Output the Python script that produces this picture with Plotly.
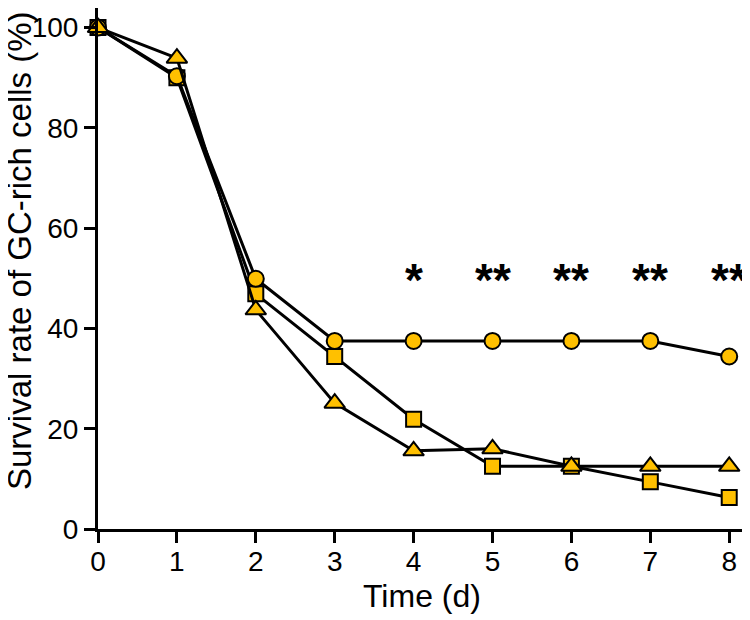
import plotly.graph_objects as go

days = [0, 1, 2, 3, 4, 5, 6, 7, 8]
circle_vals = [100, 90.3, 49.9, 37.5, 37.5, 37.5, 37.5, 37.5, 34.4]
square_vals = [100, 90.0, 46.9, 34.4, 21.9, 12.5, 12.5, 9.4, 6.3]
triangle_vals = [100, 93.9, 43.7, 25.1, 15.6, 16.0, 12.5, 12.5, 12.5]
sig_days = [4, 5, 6, 7, 8]
sig_labels = ["*", "**", "**", "**", "**"]
x_ticks = [0, 1, 2, 3, 4, 5, 6, 7, 8]
y_ticks = [0, 20, 40, 60, 80, 100]
x_title = "Time (d)"
y_title = "Survival rate of GC-rich cells (%)"

FILL = "#FFC000"
FONT = "Liberation Sans, Arial, sans-serif"

fig = go.Figure()
for vals, sym, size in [(square_vals, "square", 15),
                        (circle_vals, "circle", 16),
                        (triangle_vals, "triangle-up", 18)]:
    fig.add_trace(go.Scatter(
        x=days, y=vals, mode="lines+markers",
        line=dict(color="black", width=3),
        marker=dict(symbol=sym, size=size, color=FILL,
                    line=dict(color="black", width=2)),
        cliponaxis=False, showlegend=False))

for d, lab in zip(sig_days, sig_labels):
    fig.add_annotation(x=d, y=49.6, text="<b>" + lab + "</b>", showarrow=False,
                       xanchor="center", yanchor="middle",
                       font=dict(family=FONT, size=46, color="black"))

# axis titles as annotations for precise placement
fig.add_annotation(xref="paper", yref="paper", x=0, y=0.5336,
                   xanchor="center", yanchor="middle", xshift=-78,
                   text=y_title, textangle=-90, showarrow=False,
                   font=dict(family=FONT, size=33, color="black"))
fig.add_annotation(xref="paper", yref="paper", x=0.5, y=0,
                   xanchor="center", yanchor="middle", yshift=-67,
                   text=x_title, showarrow=False,
                   font=dict(family=FONT, size=32, color="black"))

# the page body adds an 8px offset, so the figure is sized to fit the window
fig.update_layout(
    width=742, height=612,
    margin=dict(l=90, r=5, t=0, b=91),
    paper_bgcolor="white", plot_bgcolor="white",
    font=dict(family=FONT, color="black", size=28),
)
fig.update_xaxes(
    range=[0, 8.2], tickvals=x_ticks, showgrid=False, zeroline=False,
    showline=True, linecolor="black", linewidth=3, automargin=False,
    ticks="outside", ticklen=11, tickwidth=3, tickcolor="black",
    tickfont=dict(size=28, family=FONT), ticklabelstandoff=-6,
)
fig.update_yaxes(
    range=[0, 103.9], tickvals=y_ticks, showgrid=False, zeroline=False,
    showline=True, linecolor="black", linewidth=3, automargin=False,
    ticks="outside", ticklen=11, tickwidth=3, tickcolor="black",
    tickfont=dict(size=28, family=FONT),
)
fig.write_html("out.html")
